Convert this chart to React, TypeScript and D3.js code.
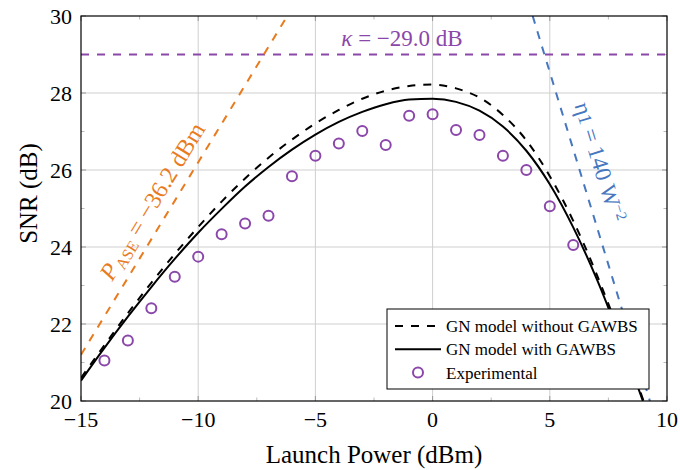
import React from "react";
import * as d3 from "d3";

// ---- data ----
const modelX = [-15, -14, -13, -12, -11, -10, -9, -8, -7, -6, -5, -4, -3, -2, -1, 0, 1, 2, 3, 4, 5, 6, 7, 7.5, 8, 8.5, 9];
const snrWithoutGAWBS = [20.60, 21.45, 22.28, 23.07, 23.82, 24.52, 25.18, 25.78, 26.32, 26.79, 27.21, 27.56, 27.85, 28.06, 28.18, 28.22, 28.12, 27.88, 27.43, 26.77, 25.84, 24.68, 23.29, 22.52, 21.71, 20.87, 20.00];
const snrWithGAWBS = [20.53, 21.38, 22.19, 22.96, 23.69, 24.37, 24.99, 25.57, 26.08, 26.53, 26.92, 27.25, 27.51, 27.71, 27.83, 27.85, 27.77, 27.54, 27.13, 26.50, 25.63, 24.51, 23.17, 22.42, 21.63, 20.80, 19.95];

const expX = [-14, -13, -12, -11, -10, -9, -8, -7, -6, -5, -4, -3, -2, -1, 0, 1, 2, 3, 4, 5, 6];
const expSNR = [21.05, 21.57, 22.41, 23.23, 23.75, 24.33, 24.61, 24.81, 25.84, 26.37, 26.69, 27.01, 26.65, 27.41, 27.45, 27.04, 26.91, 26.37, 26.00, 25.06, 24.05];

const aseX = [-15, -6.2];
const aseSNR = [21.2, 30.0];
const etaX = [4.27, 9.27];
const etaSNR = [30.0, 20.0];
const kappaSNR = 29.0;

const xTicks = [-15, -10, -5, 0, 5, 10];
const xMinor = [-12.5, -7.5, -2.5, 2.5, 7.5];
const yTicks = [20, 22, 24, 26, 28, 30];
const yMinor = [21, 23, 25, 27, 29];

const legendItems = ["GN model without GAWBS", "GN model with GAWBS", "Experimental"];

// ---- layout ----
const W = 680, H = 470;
const L = 81, R = 667, T = 16, B = 401;
const FONT = "'Liberation Serif', 'Times New Roman', serif";
const ORANGE = "#E97B1F";
const PURPLE = "#8B47AA";
const BLUE = "#4677BF";
const GRID = "#cfcfcf";

export default function App() {
  const x = d3.scaleLinear().domain([-15, 10]).range([L, R]);
  const y = d3.scaleLinear().domain([20, 30]).range([B, T]);

  const line = d3
    .line<[number, number]>()
    .x((d) => x(d[0]))
    .y((d) => y(d[1]))
    .curve(d3.curveMonotoneX);
  const straight = d3
    .line<[number, number]>()
    .x((d) => x(d[0]))
    .y((d) => y(d[1]));

  const withoutPts = modelX.map((v, i) => [v, snrWithoutGAWBS[i]] as [number, number]);
  const withPts = modelX.map((v, i) => [v, snrWithGAWBS[i]] as [number, number]);
  const asePts = aseX.map((v, i) => [v, aseSNR[i]] as [number, number]);
  const etaPts = etaX.map((v, i) => [v, etaSNR[i]] as [number, number]);

  const dash = "8,8";
  const tickLen = 5;
  const minorLen = 3.5;

  return (
    <svg
      width={W}
      height={H}
      style={{ position: "absolute", left: 0, top: 0, background: "#fff" }}
      fontFamily={FONT}
    >
      <defs>
        <clipPath id="plot">
          <rect x={L} y={T} width={R - L} height={B - T} />
        </clipPath>
      </defs>
      <rect x={0} y={0} width={W} height={H} fill="#fff" />

      {/* grid */}
      {xTicks.slice(1, -1).map((t) => (
        <line key={"gx" + t} x1={x(t)} x2={x(t)} y1={T} y2={B} stroke={GRID} strokeWidth={1} />
      ))}
      {yTicks.slice(1, -1).map((t) => (
        <line key={"gy" + t} x1={L} x2={R} y1={y(t)} y2={y(t)} stroke={GRID} strokeWidth={1} />
      ))}

      {/* ticks */}
      {xTicks.map((t) => (
        <g key={"tx" + t}>
          <line x1={x(t)} x2={x(t)} y1={B} y2={B - tickLen} stroke="#999" strokeWidth={1} />
          <line x1={x(t)} x2={x(t)} y1={T} y2={T + tickLen} stroke="#999" strokeWidth={1} />
        </g>
      ))}
      {xMinor.map((t) => (
        <g key={"mx" + t}>
          <line x1={x(t)} x2={x(t)} y1={B} y2={B - minorLen} stroke="#bbb" strokeWidth={1} />
          <line x1={x(t)} x2={x(t)} y1={T} y2={T + minorLen} stroke="#bbb" strokeWidth={1} />
        </g>
      ))}
      {yTicks.map((t) => (
        <g key={"ty" + t}>
          <line x1={L} x2={L + tickLen} y1={y(t)} y2={y(t)} stroke="#999" strokeWidth={1} />
          <line x1={R} x2={R - tickLen} y1={y(t)} y2={y(t)} stroke="#999" strokeWidth={1} />
        </g>
      ))}
      {yMinor.map((t) => (
        <g key={"my" + t}>
          <line x1={L} x2={L + minorLen} y1={y(t)} y2={y(t)} stroke="#bbb" strokeWidth={1} />
          <line x1={R} x2={R - minorLen} y1={y(t)} y2={y(t)} stroke="#bbb" strokeWidth={1} />
        </g>
      ))}

      <g clipPath="url(#plot)">
        <line
          x1={L}
          x2={R}
          y1={y(kappaSNR)}
          y2={y(kappaSNR)}
          stroke={PURPLE}
          strokeWidth={2}
          strokeDasharray={dash}
        />
        <path d={straight(asePts) || ""} fill="none" stroke={ORANGE} strokeWidth={2} strokeDasharray={dash} />
        <path d={straight(etaPts) || ""} fill="none" stroke={BLUE} strokeWidth={2} strokeDasharray={dash} />
        <path d={line(withoutPts) || ""} fill="none" stroke="#000" strokeWidth={2} strokeDasharray={dash} />
        <path d={line(withPts) || ""} fill="none" stroke="#000" strokeWidth={2} />
        {expX.map((v, i) => (
          <circle key={"e" + v} cx={x(v)} cy={y(expSNR[i])} r={5} fill="none" stroke={PURPLE} strokeWidth={2} />
        ))}
      </g>

      {/* frame */}
      <rect x={L} y={T} width={R - L} height={B - T} fill="none" stroke="#000" strokeWidth={1.2} />

      {/* tick labels */}
      {xTicks.map((t) => (
        <text key={"lx" + t} x={x(t)} y={427} textAnchor="middle" fontSize={22} fill="#000">
          {t < 0 ? "\u2212" + Math.abs(t) : String(t)}
        </text>
      ))}
      {yTicks.map((t) => (
        <text key={"ly" + t} x={72} y={y(t)} dy="0.35em" textAnchor="end" fontSize={22} fill="#000">
          {t}
        </text>
      ))}

      {/* axis titles */}
      <text x={(L + R) / 2} y={463} textAnchor="middle" fontSize={25} fill="#000">
        Launch Power (dBm)
      </text>
      <text transform={`translate(37, ${(T + B) / 2 - 15}) rotate(-90)`} textAnchor="middle" fontSize={25} fill="#000">
        SNR (dB)
      </text>

      {/* annotations */}
      <text x={402} y={46} textAnchor="middle" fontSize={23} fill={PURPLE}>
        <tspan fontStyle="italic">κ</tspan>
        <tspan> = −29.0 dB</tspan>
      </text>
      <text
        transform={`translate(152, 201) rotate(-58.6)`}
        textAnchor="middle"
        dy="0.35em"
        fontSize={24}
        fill={ORANGE}
      >
        <tspan fontStyle="italic">P</tspan>
        <tspan fontSize={16} dx={1} dy={4}>ASE</tspan>
        <tspan dy={-4}> = −36.2 dBm</tspan>
      </text>
      <text
        transform={`translate(600, 162) rotate(73)`}
        textAnchor="middle"
        dy="0.35em"
        fontSize={23}
        fill={BLUE}
      >
        <tspan>η</tspan>
        <tspan fontSize={19}>1</tspan>
        <tspan> = 140 W</tspan>
        <tspan fontSize={15} dy={-8}>−2</tspan>
      </text>

      {/* legend */}
      <g>
        <rect x={387} y={309} width={262} height={80} fill="#fff" stroke="#000" strokeWidth={1} />
        {legendItems.map((name, i) => {
          const cy = 326 + i * 23.3;
          return (
            <g key={name}>
              {i === 0 && (
                <line x1={395} x2={441} y1={cy} y2={cy} stroke="#000" strokeWidth={2} strokeDasharray={dash} />
              )}
              {i === 1 && <line x1={395} x2={441} y1={cy} y2={cy} stroke="#000" strokeWidth={2} />}
              {i === 2 && <circle cx={418} cy={cy} r={5} fill="none" stroke={PURPLE} strokeWidth={2} />}
              <text x={446} y={cy} dy="0.35em" fontSize={17} fill="#000">
                {name}
              </text>
            </g>
          );
        })}
      </g>
    </svg>
  );
}
